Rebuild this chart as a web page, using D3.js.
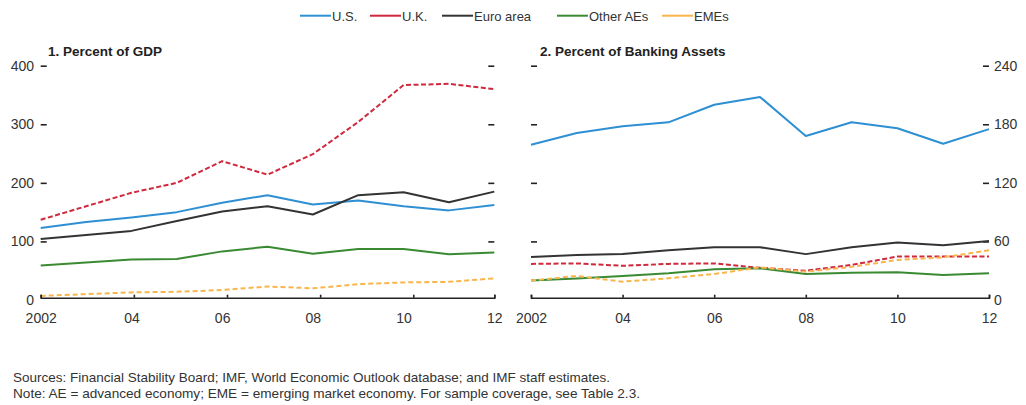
<!DOCTYPE html>
<html><head><meta charset="utf-8">
<script src="https://cdn.jsdelivr.net/npm/d3@7"></script>
<style>
html,body{margin:0;padding:0;background:#fff;}
svg{display:block;font-family:"Liberation Sans",Arial,sans-serif;}
</style></head>
<body>
<svg id="chart" width="1026" height="405"></svg>
<script>
// ---------- data ----------
const years = [2002,2003,2004,2005,2006,2007,2008,2009,2010,2011,2012];
const seriesNames = ["U.S.","U.K.","Euro area","Other AEs","EMEs"];
const seriesColors = ["#2e8fd3","#d0283d","#333333","#3a8a34","#f9b54c"];
const seriesDashed = [false,true,false,false,true];

// Panel 1: percent of GDP
const gdpUS   = [123,133,141,150,166,179,163,170,160,153,162];
const gdpUK   = [137,160,183,200,237,214,249,304,367,369,360];
const gdpEuro = [104,111,118,135,151,160,146,179,184,167,185];
const gdpOAE  = [59,64,69,70,83,91,79,87,87,78,81];
const gdpEME  = [7,10,13,14,17,23,20,27,30,31,37];

// Panel 2: percent of banking assets
const bankUS   = [159,171,178,182,200,208,168,182,176,160,175];
const bankUK   = [37,37.5,35,37,37.5,33,30,36,44.5,44.5,44.5];
const bankEuro = [44,46,47,51,54,54,47,54,59,56,60.5];
const bankOAE  = [20,22,24.6,27.3,31.4,32.4,26.6,28,28.3,25.6,27.3];
const bankEME  = [20,24.6,18.8,22.2,26.6,33.4,29,34,41,43.7,51];

const xTickYears = [2002,2004,2006,2008,2010,2012];
const xTickLabels = ["2002","04","06","08","10","12"];
const gdpTicks = [0,100,200,300,400];
const bankTicks = [0,60,120,180,240];

const panel1Title = "1. Percent of GDP";
const panel2Title = "2. Percent of Banking Assets";
const footnotes = [
  "Sources: Financial Stability Board; IMF, World Economic Outlook database; and IMF staff estimates.",
  "Note: AE = advanced economy; EME = emerging market economy. For sample coverage, see Table 2.3."
];

// ---------- drawing ----------
const svg = d3.select("#chart");
const textColor = "#333";

function drawPanel(opt){
  const g = svg.append("g");
  const x = d3.scaleLinear().domain([2002,2012]).range(opt.xRange);
  const y = d3.scaleLinear().domain([0, opt.yMax]).range([300, 65.7]);
  // tick mark scale (as in the original, slightly stretched)
  const xt = opt.tickScale(x);

  // y tick dashes on both sides
  const yt = opt.yTicks.filter(d => d > 0);
  g.append("g").attr("transform",`translate(${opt.xRange[0]},0)`)
    .call(d3.axisRight(y).tickValues(yt).tickSize(6).tickFormat(""))
    .call(s => { s.select(".domain").remove(); s.selectAll("line").attr("stroke","#222").attr("stroke-width",1.6); });
  g.append("g").attr("transform",`translate(${opt.xRange[1]},0)`)
    .call(d3.axisLeft(y).tickValues(yt).tickSize(6).tickFormat(""))
    .call(s => { s.select(".domain").remove(); s.selectAll("line").attr("stroke","#222").attr("stroke-width",1.6); });

  // y tick labels
  g.append("g").attr("transform",`translate(${opt.labelX},0)`)
    .call((opt.labelSide === "left" ? d3.axisLeft(y) : d3.axisRight(y)).tickValues(opt.yTicks).tickSize(0).tickPadding(0))
    .call(s => { s.select(".domain").remove(); s.selectAll("text").attr("fill",textColor).style("font-size","14px").style("font-family",'"Liberation Sans",Arial,sans-serif'); });

  // lines
  const line = d3.line().x((d,i)=>x(years[i])).y(d=>y(d));
  opt.series.forEach((vals,k)=>{
    g.append("path").datum(vals)
      .attr("fill","none")
      .attr("stroke",seriesColors[k])
      .attr("stroke-width",2)
      .attr("stroke-linejoin","round")
      .attr("stroke-dasharray", seriesDashed[k] ? (k===1 ? "5,2.5" : "5,3") : null)
      .attr("d",line);
  });

  // x axis line + tick marks
  const axY = y(0) - 2.3;
  g.append("g").attr("transform",`translate(0,${axY})`)
    .call(d3.axisTop(xt).tickValues(xTickYears).tickSize(3).tickSizeOuter(3).tickFormat(""))
    .call(s => { s.select(".domain").attr("stroke","#222").attr("stroke-width",1.6);
                 s.selectAll("line").attr("stroke","#222").attr("stroke-width",1.6); });
  // x tick labels
  g.append("g").attr("transform",`translate(0,${axY})`)
    .call(d3.axisBottom(x).tickValues(xTickYears).tickSize(0).tickPadding(14)
          .tickFormat((d,i)=>xTickLabels[i]))
    .call(s => { s.select(".domain").remove();
                 s.selectAll("text").attr("fill",textColor).style("font-size","14px").style("font-family",'"Liberation Sans",Arial,sans-serif').attr("dy","0.8em"); });

  // title
  g.append("text").attr("x",opt.titleX).attr("y",56)
    .attr("fill","#222").style("font-size","13.5px").style("font-weight","bold")
    .text(opt.title);
}

drawPanel({
  xRange:[40.7,494.3], yMax:400, yTicks:gdpTicks, labelX:34, labelSide:"left",
  series:[gdpUS,gdpUK,gdpEuro,gdpOAE,gdpEME], title:panel1Title, titleX:48,
  tickScale: x => d3.scaleLinear().domain([2002,2010,2012]).range([x(2002), x(2002)+372.6, x(2012)])
});
drawPanel({
  xRange:[531,989], yMax:240, yTicks:bankTicks, labelX:994, labelSide:"right",
  series:[bankUS,bankUK,bankEuro,bankOAE,bankEME], title:panel2Title, titleX:540,
  tickScale: x => x
});

// legend
const legendStarts = [300,370,442,557,662];
const leg = svg.append("g");
seriesNames.forEach((name,k)=>{
  const gx = legendStarts[k];
  leg.append("line").attr("x1",gx).attr("x2",gx+31).attr("y1",15.7).attr("y2",15.7)
    .attr("stroke",seriesColors[k]).attr("stroke-width",2);
  leg.append("text").attr("x",gx+32).attr("y",20.5).attr("fill",textColor)
    .style("font-size","13px").text(name);
});

// footnotes
const fnLen = [597,627];
footnotes.forEach((t,i)=>{
  svg.append("text").attr("x",13).attr("y",381.5 + i*16.6)
    .attr("fill",textColor).style("font-size","13px")
    .attr("textLength",fnLen[i]).attr("lengthAdjust","spacingAndGlyphs")
    .text(t);
});
</script>
</body></html>
